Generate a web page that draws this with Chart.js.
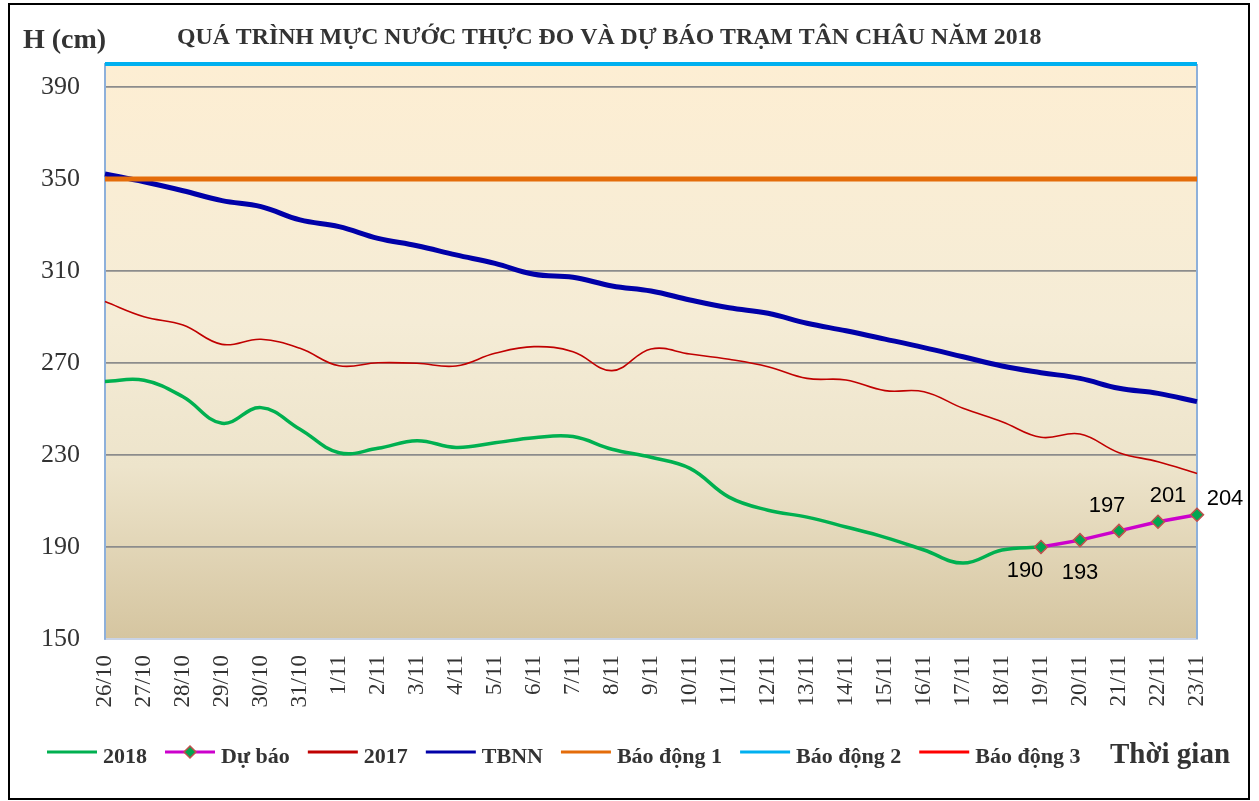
<!DOCTYPE html>
<html><head><meta charset="utf-8">
<script src="https://cdn.jsdelivr.net/npm/chart.js@4.4.0/dist/chart.umd.min.js"></script>
<style>html,body{margin:0;padding:0;background:#fff;}#wrap{width:1259px;height:801px;}</style>
</head><body><div id="wrap"><canvas id="c" width="1259" height="801"></canvas></div>
<script>
// ---------- data ----------
const categories = ['26/10','27/10','28/10','29/10','30/10','31/10','1/11','2/11','3/11','4/11','5/11','6/11','7/11','8/11','9/11','10/11','11/11','12/11','13/11','14/11','15/11','16/11','17/11','18/11','19/11','20/11','21/11','22/11','23/11'];
const yTickValues = [150,190,230,270,310,350,390];
const h2018 = [262,262.5,255.3,243.8,250.6,241.2,231,232.9,236.2,233.3,235.3,237.5,238,232.5,229,224.2,211.7,206,203,198.7,194.2,188.7,183,188.7,190,null,null,null,null];
const forecast = [null,null,null,null,null,null,null,null,null,null,null,null,null,null,null,null,null,null,null,null,null,null,null,null,190,193,197,201,204];
const h2017 = [296.7,290.1,286.5,278.1,280.3,276.4,268.8,270.1,269.9,268.7,274.2,277.1,274.9,266.7,276.1,273.9,271.6,268.4,263.3,262.6,258,257.5,250.3,244.5,237.7,239.1,231,227.1,222];
const tbnn = [352.2,348.8,344.9,340.6,338,332.2,329.3,324.2,321,317,313.3,308.6,307.3,303.5,301.3,297.4,294,291.6,287.3,284,280.4,276.7,272.7,268.7,265.8,263.3,259,256.8,253.2];
const alarm1 = [{x:'26/10',y:350},{x:'23/11',y:350}];
const alarm2 = [{x:'26/10',y:400},{x:'23/11',y:400}];
const alarm3 = [{x:'26/10',y:450},{x:'23/11',y:450}];
const seriesNames = ['2018','Dự báo','2017','TBNN','Báo động 1','Báo động 2','Báo động 3'];
const titleText = 'QUÁ TRÌNH MỰC NƯỚC THỰC ĐO VÀ DỰ BÁO TRẠM TÂN CHÂU NĂM 2018';
const yTitle = 'H (cm)';
const xTitle = 'Thời gian';

// ---------- plugins ----------
const SERIF = '"Liberation Serif", "Times New Roman", serif';
const bgPlugin = {
  id: 'bg',
  beforeDraw(chart) {
    const {ctx, chartArea: a} = chart;
    ctx.save();
    ctx.fillStyle = '#fff';
    ctx.fillRect(0, 0, chart.width, chart.height);
    const g = ctx.createLinearGradient(0, a.top, 0, a.bottom);
    g.addColorStop(0, '#FDEED3');
    g.addColorStop(0.45, '#F5ECD6');
    g.addColorStop(0.7, '#EDE4CB');
    g.addColorStop(1, '#D5C5A0');
    ctx.fillStyle = g;
    ctx.fillRect(a.left, a.top, a.right - a.left, a.bottom - a.top);
    ctx.restore();
  },
  beforeDatasetsDraw(chart) {
    const {ctx, chartArea: a} = chart;
    ctx.save();
    ctx.strokeStyle = '#8EB0DA';
    ctx.lineWidth = 2;
    ctx.beginPath();
    ctx.moveTo(a.right, a.top); ctx.lineTo(a.right, a.bottom);
    ctx.stroke();
    ctx.restore();
  }
};
const labelOffsets = [[-16,24],[0,33],[-12,-25],[10,-26],[28,-16]];
const textPlugin = {
  id: 'texts',
  afterDraw(chart) {
    const {ctx} = chart;
    ctx.save();
    // data labels for forecast
    const meta = chart.getDatasetMeta(1);
    ctx.font = '22px "Liberation Sans", Arial, sans-serif';
    ctx.fillStyle = '#000';
    ctx.textAlign = 'center';
    ctx.textBaseline = 'middle';
    let k = 0;
    meta.data.forEach((pt, i) => {
      const v = chart.data.datasets[1].data[i];
      if (v == null) return;
      const off = labelOffsets[k++] || [0, -20];
      ctx.fillText(String(v), pt.x + off[0], pt.y + off[1]);
    });
    // title
    ctx.fillStyle = '#333';
    ctx.textAlign = 'left';
    ctx.textBaseline = 'alphabetic';
    ctx.font = 'bold 23.8px ' + SERIF;
    ctx.fillText(titleText, 177, 44);
    ctx.font = 'bold 28px ' + SERIF;
    ctx.fillText(yTitle, 23, 48);
    ctx.font = 'bold 29px ' + SERIF;
    ctx.fillText(xTitle, 1110, 763);
    // legend
    ctx.font = 'bold 22px ' + SERIF;
    let x = 47;
    const ly = 752;
    chart.data.datasets.forEach((ds, i) => {
      ctx.strokeStyle = ds.borderColor;
      ctx.lineWidth = 3;
      ctx.beginPath();
      ctx.moveTo(x, ly); ctx.lineTo(x + 50, ly);
      ctx.stroke();
      if (ds.pointStyle === 'rectRot') {
        const r = 6;
        ctx.beginPath();
        ctx.moveTo(x + 25, ly - r); ctx.lineTo(x + 25 + r, ly); ctx.lineTo(x + 25, ly + r); ctx.lineTo(x + 25 - r, ly); ctx.closePath();
        ctx.fillStyle = ds.pointBackgroundColor;
        ctx.fill();
        ctx.lineWidth = 1.5;
        ctx.strokeStyle = ds.pointBorderColor;
        ctx.stroke();
      }
      ctx.fillStyle = '#333';
      ctx.fillText(ds.label, x + 56, 763);
      x += 56 + ctx.measureText(ds.label).width + 18;
    });
    // outer border
    ctx.strokeStyle = '#000';
    ctx.lineWidth = 2;
    ctx.strokeRect(9, 4, 1240, 795);
    ctx.restore();
  }
};

// ---------- chart ----------
new Chart(document.getElementById('c'), {
  type: 'line',
  data: {
    labels: categories,
    datasets: [
      {label: seriesNames[0], data: h2018, borderColor: '#00B050', borderWidth: 3.5, pointRadius: 0, tension: 0.4, order: 1},
      {label: seriesNames[1], data: forecast, borderColor: '#CC00CC', borderWidth: 3.5, pointStyle: 'rectRot', pointRadius: 6.5, pointHoverRadius: 6.5,
        pointBackgroundColor: '#00A651', pointBorderColor: '#C0504D', pointBorderWidth: 1.5, tension: 0, order: 0, clip: 10},
      {label: seriesNames[2], data: h2017, borderColor: '#C00000', borderWidth: 1.6, pointRadius: 0, tension: 0.4, order: 4},
      {label: seriesNames[3], data: tbnn, borderColor: '#0000A8', borderWidth: 5, pointRadius: 0, tension: 0.4, order: 3},
      {label: seriesNames[4], data: alarm1, borderColor: '#E46C0A', borderWidth: 5, pointRadius: 0, order: 2},
      {label: seriesNames[5], data: alarm2, borderColor: '#00B0F0', borderWidth: 4, pointRadius: 0, order: 5, clip: {left: 0, top: 4, right: 0, bottom: 0}},
      {label: seriesNames[6], data: alarm3, borderColor: '#FF0000', borderWidth: 2, pointRadius: 0, order: 6}
    ]
  },
  options: {
    responsive: false,
    animation: false,
    devicePixelRatio: 1,
    spanGaps: false,
    layout: {padding: {left: 0, top: 64, right: 62, bottom: 0}},
    plugins: {legend: {display: false}, title: {display: false}, tooltip: {enabled: false}},
    scales: {
      x: {
        type: 'category',
        offset: false,
        grid: {display: false, drawTicks: false},
        border: {color: '#C9D3E6', width: 2},
        ticks: {autoSkip: false, maxRotation: 90, minRotation: 90, padding: 16, color: '#333', font: {family: SERIF, size: 23}},
        afterFit(s) { s.height = 162; }
      },
      y: {
        min: 150, max: 400,
        afterBuildTicks(s) { s.ticks = yTickValues.map(v => ({value: v})); },
        grid: {color: (c) => c.tick && c.tick.value === 150 ? 'rgba(0,0,0,0)' : '#8C8C8C', lineWidth: 1.8, drawTicks: false},
        border: {color: '#8EB0DA', width: 2},
        ticks: {padding: 25, color: '#333', font: {family: SERIF, size: 26}},
        afterFit(s) { s.width = 105; }
      }
    }
  },
  plugins: [bgPlugin, textPlugin]
});
</script>
</body></html>
